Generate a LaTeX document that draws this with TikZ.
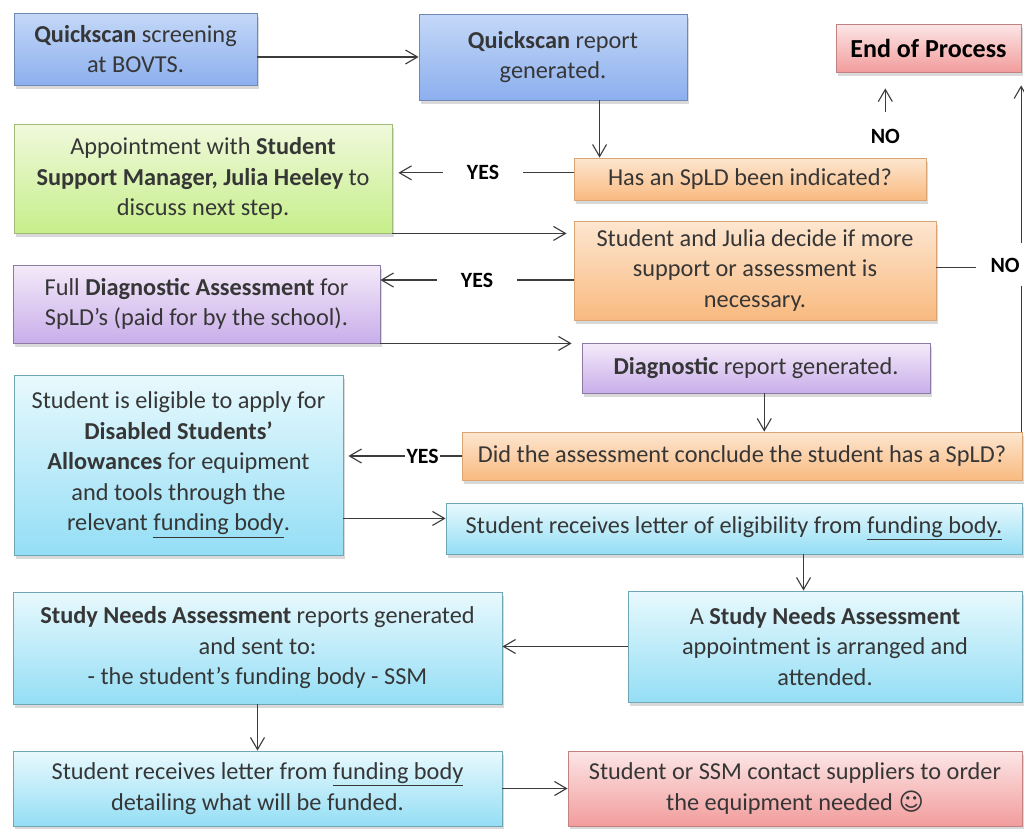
\documentclass[tikz,border=0pt]{standalone}
\usepackage{fontspec}
\setmainfont{Carlito}
\newfontfamily\symfont{DejaVu Sans}
\usetikzlibrary{arrows.meta,shadows}
\definecolor{inkgrey}{HTML}{363636}
\definecolor{linegrey}{HTML}{3C3C3C}
\definecolor{blueTop}{HTML}{C4D8F8}
\definecolor{blueBot}{HTML}{8CAFEE}
\definecolor{blueLine}{HTML}{7088B4}
\definecolor{greenTop}{HTML}{F0F9DC}
\definecolor{greenBot}{HTML}{C6EE8A}
\definecolor{greenLine}{HTML}{A0BC78}
\definecolor{orangeTop}{HTML}{FDE6D0}
\definecolor{orangeBot}{HTML}{F9BA80}
\definecolor{orangeLine}{HTML}{D9A574}
\definecolor{purpleTop}{HTML}{F4EAF9}
\definecolor{purpleBot}{HTML}{C9AEEA}
\definecolor{purpleLine}{HTML}{8C7AA6}
\definecolor{cyanTop}{HTML}{E8F9FD}
\definecolor{cyanBot}{HTML}{94DEF5}
\definecolor{cyanLine}{HTML}{6FA6B6}
\definecolor{redTop}{HTML}{FCE6E6}
\definecolor{redBot}{HTML}{F29C9C}
\definecolor{redLine}{HTML}{C28282}

\begin{document}
\begin{tikzpicture}[x=0.25mm,y=-0.25mm,
    font=\fontsize{17.3}{21.7}\selectfont,text=inkgrey,
    wh/.style 2 args={minimum width=#1*0.25mm,minimum height=#2*0.25mm},
    box/.style={rectangle,align=center,inner sep=0pt,line width=0.6pt,
      drop shadow={shadow xshift=0.4mm,shadow yshift=-0.9mm,opacity=0.3}},
    bluebox/.style={box,draw=blueLine,top color=blueTop,bottom color=blueBot},
    greenbox/.style={box,draw=greenLine,top color=greenTop,bottom color=greenBot},
    orangebox/.style={box,draw=orangeLine,top color=orangeTop,bottom color=orangeBot},
    purplebox/.style={box,draw=purpleLine,top color=purpleTop,bottom color=purpleBot},
    cyanbox/.style={box,draw=cyanLine,top color=cyanTop,bottom color=cyanBot},
    redbox/.style={box,draw=redLine,top color=redTop,bottom color=redBot},
    link/.style={draw=linegrey,line width=0.8pt},
    flow/.style={link,-{Straight Barb[length=3mm,width=3.5mm]}},
    nolab/.style={font=\fontsize{15.5}{18}\selectfont\bfseries,text=black},
    yeslab/.style={nolab,fill=white,inner xsep=6mm}]
  \useasboundingbox (0,0) rectangle (1024,828);

  \node[bluebox,wh={243}{72}] (qs) at (135.5,49) {\textbf{Quickscan} screening\\at BOVTS.};
  \node[bluebox,wh={268}{86}] (qsrep) at (553,57) {\textbf{Quickscan} report\\generated.};
  \node[redbox,wh={185}{48},font=\fontsize{18.5}{21}\selectfont\bfseries,text=black] (endp) at (928.5,48) {End of Process};
  \node[orangebox,wh={352}{42}] (spld) at (750,179) {Has an SpLD been indicated?};
  \node[greenbox,wh={378}{109}] (appt) at (203,178.5) {Appointment with \textbf{Student}\\\textbf{Support Manager, Julia Heeley} to\\discuss next step.};
  \node[orangebox,wh={362}{99}] (decide) at (755,270.5) {Student and Julia decide if more\\support or assessment is\\necessary.};
  \node[purplebox,wh={367}{78}] (fulld) at (196.5,304) {Full \textbf{Diagnostic Assessment} for\\SpLD’s (paid for by the school).};
  \node[purplebox,wh={348}{50}] (diagrep) at (756,368) {\textbf{Diagnostic} report generated.};
  \node[orangebox,wh={560}{48}] (did) at (742,456) {Did the assessment conclude the student has a SpLD?};
  \node[cyanbox,wh={329}{180}] (elig) at (178.5,465) {Student is eligible to apply for\\\textbf{Disabled Students’}\\\textbf{Allowances} for equipment\\and tools through the\\relevant \underline{funding body}.};
  \node[cyanbox,wh={576}{51}] (letter) at (734,528.5) {Student receives letter of eligibility from \underline{funding body.}};
  \node[cyanbox,wh={394}{111}] (snaappt) at (825,646.5) {A \textbf{Study Needs Assessment}\\appointment is arranged and\\attended.};
  \node[cyanbox,wh={489}{112}] (snarep) at (257.5,648) {\textbf{Study Needs Assessment} reports generated\\and sent to:\\- the student’s funding body - SSM};
  \node[cyanbox,wh={489}{75}] (lfund) at (257.5,788.5) {Student receives letter from \underline{funding body}\\detailing what will be funded.};
  \node[redbox,wh={454}{75}] (contact) at (795,788.5) {Student or SSM contact suppliers to order\\the equipment needed {\symfont ☺}};

  \draw[flow] (qsrep.west -| qs.east) -- (qsrep.west);
  \draw[flow] (qsrep.-43.7) -- (qsrep.-43.7 |- spld.north);
  \draw[flow,shorten >=1.5mm] (spld.178) -- node[yeslab]{YES} (spld.178 -| appt.east);
  \draw[flow,shorten >=1.75mm] (appt.south east) -- (appt.south east -| decide.west);
  \draw[flow] (decide.183.6) -- node[yeslab]{YES} (decide.183.6 -| fulld.east);
  \draw[flow,shorten >=2.5mm] (fulld.south east) -- (fulld.south east -| diagrep.west);
  \draw[flow] (diagrep.-72.3) -- (diagrep.-72.3 |- did.north);
  \draw[flow,shorten >=1.25mm] (did.west) -- node[pos=0.33,yeslab,inner sep=1pt]{YES} (did.west -| elig.east);
  \draw[flow] (letter.178.7 -| elig.east) -- (letter.178.7);
  \draw[flow] (snaappt.111.6 |- letter.south) -- (snaappt.111.6);
  \draw[flow] (snaappt.west) -- (snaappt.west -| snarep.east);
  \draw[flow] (snarep.south) -- (lfund.north);
  \draw[flow] (lfund.east) -- (lfund.east -| contact.west);
  \draw[flow,shorten <=11.5mm,shorten >=4mm] (spld.9.25) -- node[pos=0.244,nolab]{NO} (spld.9.25 |- endp.south);
  \draw[flow,shorten >=3.25mm] (did.5.08) -- node[pos=0.464,nolab,fill=white,minimum height=10.75mm,xshift=-4mm,inner xsep=3mm]{NO} (did.5.08 |- endp.south);
  \draw[link,shorten >=11.25mm] (decide.1.74) -- (decide.1.74 -| did.5.08);
\end{tikzpicture}
\end{document}
